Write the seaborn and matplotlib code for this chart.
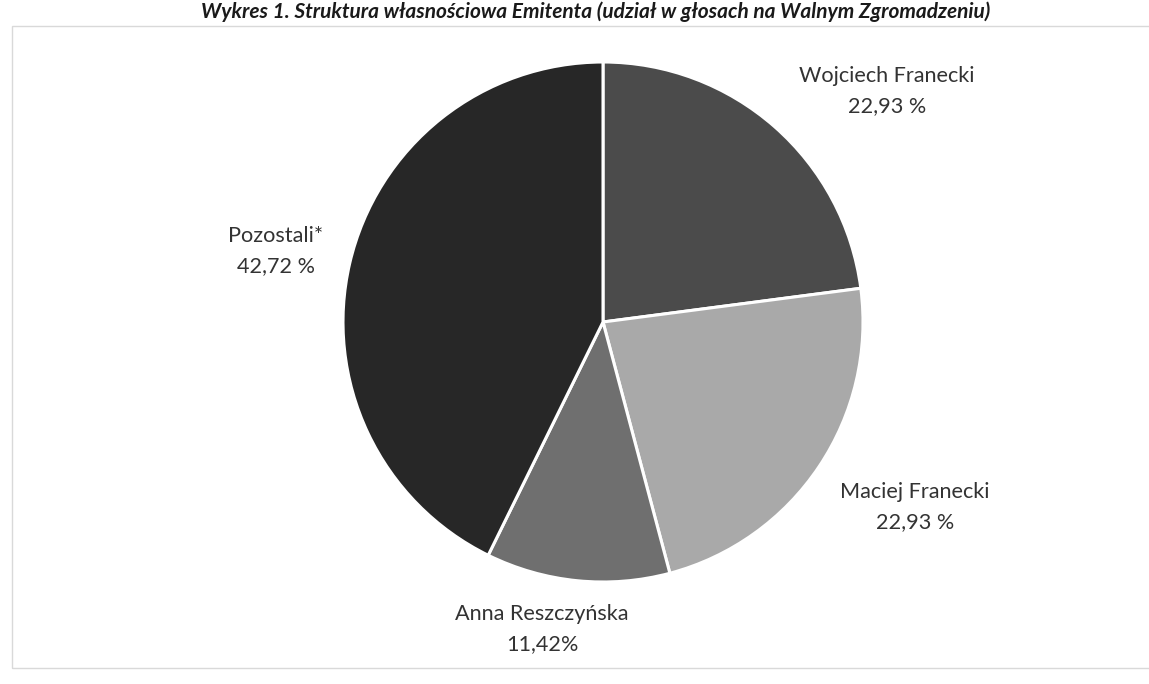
import matplotlib
matplotlib.use("Agg")
import matplotlib.pyplot as plt
import seaborn as sns
from matplotlib.patches import Rectangle

# ---- data ----
holders = ["Wojciech Franecki", "Maciej Franecki", "Anna Reszczyńska", "Pozostali*"]
shares = [22.93, 22.93, 11.42, 42.72]
pct_sep = [" ", " ", "", " "]
colors = ["#4b4b4b", "#a9a9a9", "#6f6f6f", "#272727"]
title_text = "Wykres 1. Struktura własnościowa Emitenta (udział w głosach na Walnym Zgromadzeniu)"

sns.set_theme(style="white")
plt.rcParams['font.family'] = ['Lato', 'DejaVu Sans']

W, H = 1149, 684
fig = plt.figure(figsize=(W / 100, H / 100), dpi=100)
fig.patch.set_facecolor("white")

# chart frame
fig.patches.append(Rectangle((12 / W, 16 / H), (W - 10) / W, (H - 26 - 16) / H,
                             transform=fig.transFigure, fill=False,
                             edgecolor="#d9d9d9", linewidth=1.0))

# pie axes: center (603, 322) px, radius 260 px
R = 260
k = 1.2
cx, cy = 603, 322
ax = fig.add_axes([(cx - R * k) / W, (H - cy - R * k) / H, 2 * R * k / W, 2 * R * k / H])

wedges, _ = ax.pie(shares, colors=colors, startangle=90, counterclock=False,
                   radius=1.0, wedgeprops=dict(edgecolor="white", linewidth=2.2))
ax.set_xlim(-k, k)
ax.set_ylim(-k, k)
ax.set_aspect("equal")
ax.axis("off")

# label layout (centre of each two-line label, in pie radii)
label_pos = [(1.092, 0.888), (1.20, -0.712), (-0.235, -1.181), (-1.258, 0.273)]
for name, v, sep, (lx, ly) in zip(holders, shares, pct_sep, label_pos):
    txt = f"{name}\n{v:.2f}".replace(".", ",") + f"{sep}%"
    ax.text(lx, ly, txt, ha="center", va="center", fontsize=15.6,
            color="#333333", linespacing=1.6, clip_on=False)

# title at top
fig.text(990 / W, 1 - 1 / H, title_text, ha="right", va="top",
         fontsize=15, fontweight="bold", fontstyle="italic", color="#1a1a1a")

fig.savefig("out.png", dpi=100, facecolor="white")
